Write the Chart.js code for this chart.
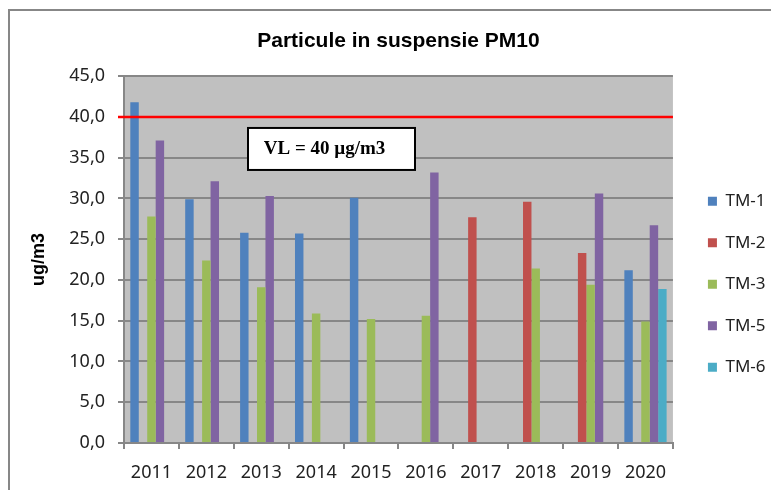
<!DOCTYPE html>
<html>
<head>
<meta charset="utf-8">
<script src="https://cdn.jsdelivr.net/npm/chart.js@4"></script>
<style>
  html, body { margin: 0; padding: 0; background: #fff; }
  #wrap { width: 771px; height: 490px; }
</style>
</head>
<body>
<div id="wrap"><canvas id="pm10Chart" width="771" height="490"></canvas></div>
<script>
// ===============================
// DATA
// ===============================
const years = ["2011", "2012", "2013", "2014", "2015", "2016", "2017", "2018", "2019", "2020"];
const tm1 = [41.8, 29.9, 25.8, 25.7, 30.1, null, null, null, null, 21.2];
const tm2 = [null, null, null, null, null, null, 27.7, 29.6, 23.3, null];
const tm3 = [27.8, 22.4, 19.1, 15.9, 15.2, 15.6, null, 21.4, 19.4, 14.9];
const tm5 = [37.1, 32.1, 30.3, null, null, 33.2, null, null, 30.6, 26.7];
const tm6 = [null, null, null, null, null, null, null, null, null, 18.9];
const limitValue = 40;
const limitLabel = "VL = 40 µg/m3";
const yTicksMax = 45;
const yTicksStep = 5;

// ===============================
// PLUGINS
// ===============================
const frameAndBg = {
  id: "frameAndBg",
  beforeDraw(chart) {
    const { ctx, chartArea: a } = chart;
    ctx.save();
    ctx.strokeStyle = "#878787";
    ctx.lineWidth = 2;
    ctx.strokeRect(9, 10, chart.width + 20, chart.height + 20);
    ctx.fillStyle = "#c0c0c0";
    ctx.fillRect(a.left, a.top, a.right - a.left, a.bottom - a.top);
    ctx.restore();
  }
};

const limitLine = {
  id: "limitLine",
  afterDatasetsDraw(chart) {
    const { ctx, chartArea: a } = chart;
    const y = chart.scales.y.getPixelForValue(limitValue);
    ctx.save();
    ctx.strokeStyle = "#ff0000";
    ctx.lineWidth = 2.5;
    ctx.beginPath();
    ctx.moveTo(a.left - 6, y);
    ctx.lineTo(a.right, y);
    ctx.stroke();

    // label box
    const bx = a.left + 124, by = y + 11, bw = 167, bh = 42;
    ctx.fillStyle = "#ffffff";
    ctx.fillRect(bx, by, bw, bh);
    ctx.strokeStyle = "#000000";
    ctx.lineWidth = 2;
    ctx.strokeRect(bx, by, bw, bh);
    ctx.fillStyle = "#000000";
    ctx.font = "bold 19px 'Liberation Serif'";
    ctx.textAlign = "center";
    ctx.textBaseline = "middle";
    ctx.fillText(limitLabel, bx + bw / 2 - 7, by + bh / 2);
    ctx.restore();
  }
};

const legendNudge = {
  id: "legendNudge",
  afterLayout(chart) {
    const lg = chart.legend;
    const a = chart.chartArea;
    const pad = lg.options.labels.padding;
    const w = lg.right - lg.left, h = lg.bottom - lg.top;
    lg.left = a.right + 35 - pad;
    lg.right = lg.left + w;
    lg.top = a.top + 92;
    lg.bottom = lg.top + h;
  }
};

// ===============================
// CHART
// ===============================
const axisGray = "#878787";

new Chart(document.getElementById("pm10Chart"), {
  type: "bar",
  data: {
    labels: years,
    datasets: [
      { label: "TM-1", data: tm1, backgroundColor: "#4f81bd" },
      { label: "TM-2", data: tm2, backgroundColor: "#c0504d" },
      { label: "TM-3", data: tm3, backgroundColor: "#9bbb59" },
      { label: "TM-5", data: tm5, backgroundColor: "#8064a2" },
      { label: "TM-6", data: tm6, backgroundColor: "#4bacc6" }
    ]
  },
  options: {
    responsive: false,
    animation: false,
    devicePixelRatio: 1,
    categoryPercentage: 0.77,
    barPercentage: 1,
    layout: { padding: { top: 10, left: 10, right: 6, bottom: 0 } },
    plugins: {
      title: {
        display: true,
        text: "Particule in suspensie PM10",
        fullSize: false,
        color: "#000",
        font: { family: "'Liberation Sans', Arial", size: 21, weight: "bold" },
        padding: { top: 19, bottom: 22 }
      },
      legend: {
        position: "right",
        align: "start",
        labels: {
          boxWidth: 9,
          boxHeight: 9,
          padding: 24.5,
          color: "#222",
          font: { family: "'Noto Sans'", size: 17 }
        }
      },
      tooltip: { enabled: false }
    },
    scales: {
      x: {
        grid: {
          offset: true,
          drawOnChartArea: false,
          drawTicks: true,
          tickLength: 6,
          color: axisGray,
          lineWidth: 2
        },
        border: { display: true, color: axisGray, width: 2 },
        ticks: {
          color: "#222",
          padding: 13,
          maxRotation: 0,
          font: { family: "'Noto Sans'", size: 18 }
        },
        afterFit(scale) { scale.height = 47; }
      },
      y: {
        min: 0,
        max: yTicksMax,
        ticks: {
          stepSize: yTicksStep,
          color: "#222",
          padding: 13,
          font: { family: "'Noto Sans'", size: 18 },
          callback: v => v.toFixed(1).replace(".", ",")
        },
        grid: {
          color: axisGray,
          lineWidth: 2,
          tickLength: 6
        },
        border: { display: true, color: axisGray, width: 2 },
        title: {
          display: true,
          text: "ug/m3",
          color: "#000",
          font: { family: "'Liberation Sans', Arial", size: 18, weight: "bold" },
          padding: { top: 18, bottom: 0 }
        },
        afterFit(scale) { scale.width = 114; }
      }
    }
  },
  plugins: [frameAndBg, limitLine, legendNudge]
});
</script>
</body>
</html>
